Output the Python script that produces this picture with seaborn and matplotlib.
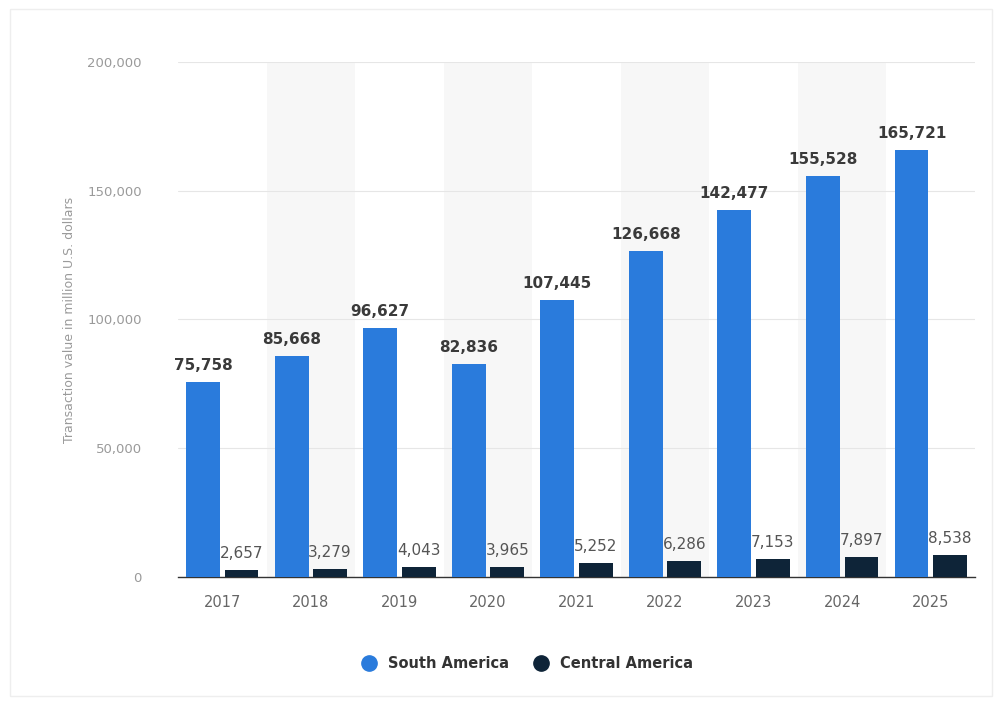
import pandas as pd
import seaborn as sns
import matplotlib.pyplot as plt
from matplotlib.lines import Line2D
from matplotlib.patches import Rectangle

# Data
years = ["2017", "2018", "2019", "2020", "2021", "2022", "2023", "2024", "2025"]
south_america = [75758, 85668, 96627, 82836, 107445, 126668, 142477, 155528, 165721]
central_america = [2657, 3279, 4043, 3965, 5252, 6286, 7153, 7897, 8538]
regions = ["South America", "Central America"]
colors = ["#2a7bdc", "#0e2438"]

df = pd.DataFrame({
    "year": years * 2,
    "value": south_america + central_america,
    "region": [regions[0]] * len(years) + [regions[1]] * len(years),
})

sns.set_style("white")
plt.rcParams["font.family"] = ["DejaVu Sans"]

fig = plt.figure(figsize=(9.97, 7.04), dpi=100)
ax = fig.add_axes([0.1785, 0.1804, 0.7995, 0.7316])

# alternating column shading
for i in range(len(years)):
    if i % 2 == 1:
        ax.axvspan(i - 0.5, i + 0.5, color="#f7f7f7", zorder=0, lw=0)

sns.barplot(data=df, x="year", y="value", hue="region", palette=colors,
            width=0.87, gap=0.12, saturation=1, linewidth=0, ax=ax,
            legend=False, zorder=3)

ax.set_ylim(0, 200000)
ax.set_xlim(-0.5, len(years) - 0.5)
ax.set_yticks([0, 50000, 100000, 150000, 200000])
ax.set_yticklabels([f"{v:,}" for v in [0, 50000, 100000, 150000, 200000]])
ax.yaxis.grid(True, color="#e6e6e6", lw=0.8, zorder=1)
ax.set_axisbelow(True)
for s in ["top", "right", "left"]:
    ax.spines[s].set_visible(False)
ax.spines["bottom"].set_color("#333333")
ax.spines["bottom"].set_linewidth(1.0)
ax.tick_params(axis="y", length=0, pad=26, labelsize=9.5, labelcolor="#9a9a9a")
ax.tick_params(axis="x", length=0, pad=13, labelsize=10.5, labelcolor="#666666")
ax.set_xlabel("")
ax.set_ylabel("Transaction value in million U.S. dollars", color="#9a9a9a", fontsize=9, labelpad=8)

# value labels
for ci, cont in enumerate(ax.containers):
    for bar in cont:
        h = bar.get_height()
        ax.text(bar.get_x() + bar.get_width() / 2, h + 3500, f"{int(h):,}",
                ha="center", va="bottom", fontsize=11,
                fontweight="bold" if ci == 0 else "normal",
                color="#3a3a3a" if ci == 0 else "#555555", zorder=2 if ci == 1 else 4)

handles = [Line2D([0], [0], marker="o", color="none", markerfacecolor=c,
                  markeredgecolor=c, markersize=11) for c in colors]
leg = fig.legend(handles, regions, loc="center", bbox_to_anchor=(0.525, 0.058), ncol=2,
                 frameon=False, fontsize=10.5, handletextpad=0.3, columnspacing=1.2)
for t in leg.get_texts():
    t.set_color("#333333")
    t.set_fontweight("bold")

# faint frame around the figure
fig.patches.append(Rectangle((0.01, 0.012), 0.985, 0.975, transform=fig.transFigure,
                             fill=False, edgecolor="#eeeeee", lw=1))

fig.savefig("out.png", dpi=100)
